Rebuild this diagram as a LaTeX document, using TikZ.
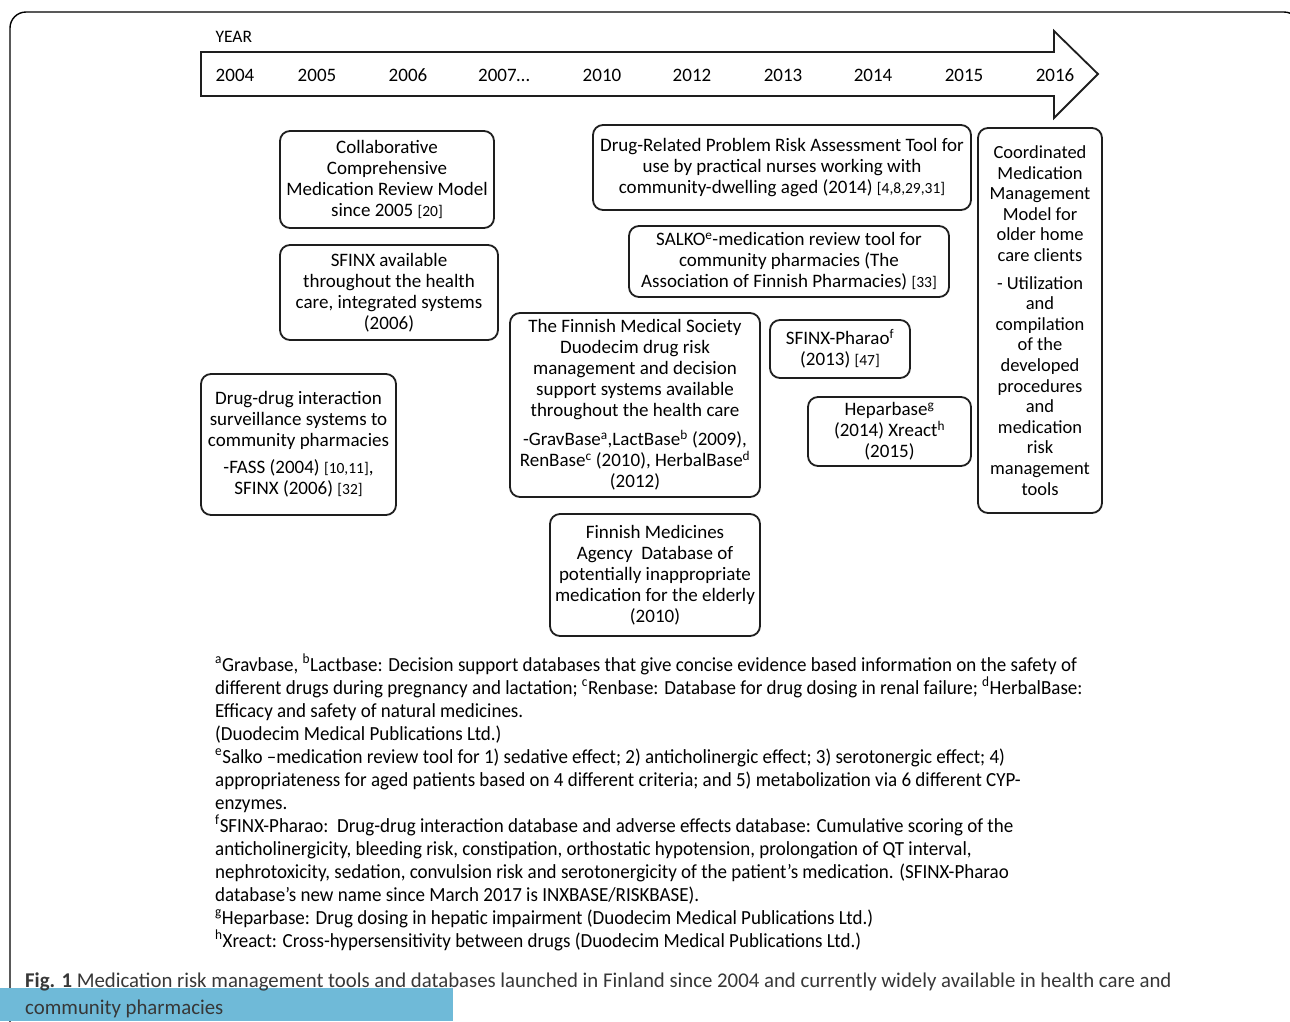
\documentclass[tikz,border=0pt]{standalone}
\usepackage{fontspec}
\setmainfont{Carlito}
\newfontfamily\condfont[FakeStretch=0.95,Ligatures=TeX]{Carlito}
\newfontfamily\capfont[FakeStretch=0.99,Ligatures=TeX]{Carlito}
\definecolor{capblue}{RGB}{111,186,216}
\definecolor{captext}{RGB}{55,55,55}
\definecolor{linegray}{RGB}{30,30,30}
\newcommand\rf[1]{{\fontsize{15.5}{18}\selectfont #1}}
\newcommand\sps[1]{\textsuperscript{#1}}
\begin{document}
\begin{tikzpicture}[x=1pt,y=-1pt,
  tbox/.style={draw=linegray, line width=1.8pt, rounded corners=10pt, align=center,
    font=\fontsize{19}{21}\selectfont, inner sep=0pt},
  yr/.style={font=\fontsize{19}{22}\selectfont, anchor=base},
  fn/.style={font=\condfont\fontsize{20}{23}\selectfont, anchor=base west, inner sep=0pt},
  captxt/.style={font=\capfont\fontsize{21}{26}\selectfont, text=captext, anchor=base west, inner sep=0pt}]
\useasboundingbox (0,0) rectangle (1290,1021);
\clip (0,0) rectangle (1290,1021);
% outer frame
\draw[line width=1.4pt, rounded corners=16pt] (10,1080) -- (10,12) -- (1300,12) -- (1300,1080);
% timeline arrow
\draw[line width=1.8pt, draw=linegray, fill=white] (201,52) -- (1054,52) -- (1054,31) -- (1098,74) -- (1054,118) -- (1054,96) -- (201,96) -- cycle;
\node[anchor=west, font=\fontsize{17.5}{20}\selectfont] (year) at (212,37) {YEAR};
\node[yr] (y04) at (235,81) {2004};
\node[yr] (y05) at (317,81) {2005};
\node[yr] (y06) at (408,81) {2006};
\node[yr] (y07) at (504,81) {2007\ldots};
\node[yr] (y10) at (602,81) {2010};
\node[yr] (y12) at (692,81) {2012};
\node[yr] (y13) at (783,81) {2013};
\node[yr] (y14) at (873,81) {2014};
\node[yr] (y15) at (964,81) {2015};
\node[yr] (y16) at (1055,81) {2016};
% boxes
\node[tbox, minimum width=214, minimum height=97] (b1) at (387,179.5)
  {Collaborative\\Comprehensive\\Medication Review Model\\since 2005 \rf{[20]}};
\node[tbox, minimum width=218, minimum height=95] (b2) at (389,292.5)
  {SFINX available\\throughout the health\\care, integrated systems\\(2006)};
\node[tbox, minimum width=195, minimum height=141] (b3) at (298.5,444.5)
  {Drug-drug interaction\\surveillance systems to\\community pharmacies\\[6pt]-FASS (2004) \rf{[10,11]},\\SFINX (2006) \rf{[32]}};
\node[tbox, minimum width=378, minimum height=85] (b4) at (782,167.5)
  {Drug-Related Problem Risk Assessment Tool for\\use by practical nurses working with\\community-dwelling aged (2014) \rf{[4,8,29,31]}};
\node[tbox, minimum width=320, minimum height=71] (b5) at (789,261.5)
  {SALKO\sps{e}-medication review tool for\\community pharmacies (The\\Association of Finnish Pharmacies) \rf{[33]}};
\node[tbox, minimum width=250, minimum height=184] (b6) at (635,405)
  {The Finnish Medical Society\\Duodecim drug risk\\management and decision\\support systems available\\throughout the health care\\[8pt]-GravBase\sps{a},LactBase\sps{b} (2009),\\RenBase\sps{c} (2010), HerbalBase\sps{d}\\(2012)};
\node[tbox, minimum width=140, minimum height=58] (b7) at (840,349)
  {SFINX-Pharao\sps{f}\\(2013) \rf{[47]}};
\node[tbox, minimum width=163, minimum height=69] (b8) at (889.5,431.5)
  {Heparbase\sps{g}\\(2014) Xreact\sps{h}\\(2015)};
\node[tbox, minimum width=210, minimum height=122] (b9) at (655,575)
  {Finnish Medicines\\Agency\ \ Database of\\potentially inappropriate\\medication for the elderly\\(2010)};
\node[tbox, minimum width=124, minimum height=385, font=\fontsize{18.5}{20.6}\selectfont] (b10) at (1040,320.5)
  {Coordinated\\Medication\\Management\\Model for\\older home\\care clients\\[7pt]- Utilization\\and\\compilation\\of the\\developed\\procedures\\and\\medication\\risk\\management\\tools};
% footnotes
\node[fn] (fn1) at (215,671) {\sps{a}Gravbase, \sps{b}Lactbase: Decision support databases that give concise evidence based information on the safety of};
\node[fn] (fn2) at (215,694) {different drugs during pregnancy and lactation; \sps{c}Renbase: Database for drug dosing in renal failure; \sps{d}HerbalBase:};
\node[fn] (fn3) at (215,717) {Efficacy and safety of natural medicines.};
\node[fn] (fn4) at (215,740) {(Duodecim Medical Publications Ltd.)};
\node[fn] (fn5) at (215,763) {\sps{e}Salko –medication review tool for 1) sedative effect; 2) anticholinergic effect; 3) serotonergic effect; 4)};
\node[fn] (fn6) at (215,786) {appropriateness for aged patients based on 4 different criteria; and 5) metabolization via 6 different CYP-};
\node[fn] (fn7) at (215,809) {enzymes.};
\node[fn] (fn8) at (215,832) {\sps{f}SFINX-Pharao:\ \ Drug-drug interaction database and adverse effects database: Cumulative scoring of the};
\node[fn] (fn9) at (215,855) {anticholinergicity, bleeding risk, constipation, orthostatic hypotension, prolongation of QT interval,};
\node[fn] (fn10) at (215,878) {nephrotoxicity, sedation, convulsion risk and serotonergicity of the patient’s medication. (SFINX-Pharao};
\node[fn] (fn11) at (215,901) {database’s new name since March 2017 is INXBASE/RISKBASE).};
\node[fn] (fn12) at (215,924) {\sps{g}Heparbase: Drug dosing in hepatic impairment (Duodecim Medical Publications Ltd.)};
\node[fn] (fn13) at (215,947) {\sps{h}Xreact: Cross-hypersensitivity between drugs (Duodecim Medical Publications Ltd.)};
% caption
\fill[capblue] (0,988) rectangle (453,1021);
\node[captxt] (cap1) at (25,987) {\textbf{Fig. 1} Medication risk management tools and databases launched in Finland since 2004 and currently widely available in health care and};
\node[captxt] (cap2) at (25,1014) {community pharmacies};
\end{tikzpicture}
\end{document}
